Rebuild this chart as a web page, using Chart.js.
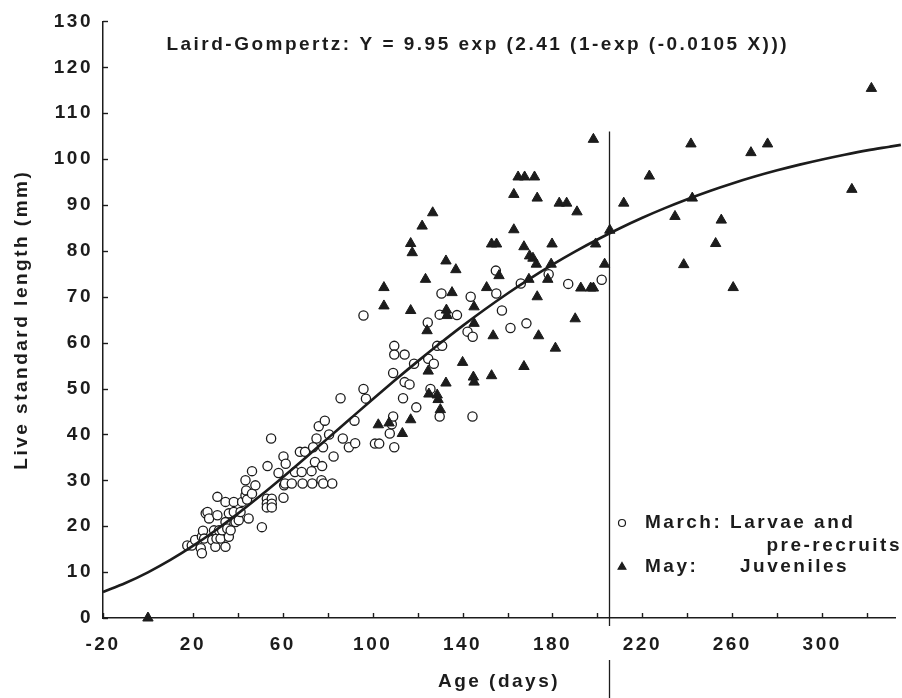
<!DOCTYPE html>
<html><head><meta charset="utf-8">
<script src="https://cdn.jsdelivr.net/npm/chart.js@4.4.1/dist/chart.umd.min.js"></script>
<style>html,body{margin:0;padding:0;background:#fff;}#wrap{width:902px;height:698px;}</style>
</head><body><div id="wrap"><canvas id="c" width="902" height="698"></canvas></div>
<script>
// ---- Data ----
const marchX = [17.5,19.5,21,23.5,24,24,24.5,25,25.7,26.5,27.2,28.6,29.4,30,30.5,30.9,30.9,31.6,32.3,33,34.5,34.5,34.5,35.3,36,36,36.8,38.2,38.2,39,40.4,41.2,41.9,43.4,43.4,43.7,44.1,44.8,46.3,46.3,47.8,50.7,52.9,52.9,52.9,53.2,54.8,55.1,55.1,55.1,58.1,60.3,60.3,60.6,61.3,61,64,65.4,67.6,68.4,68.8,69.9,72.8,73.1,74.3,75,73.5,77.9,76,78.7,77.5,77.2,78,80.6,82,82.6,85.7,86.7,89.4,92.2,91.9,95.9,95.9,97,101,102.9,107.6,108.5,109.1,109.6,109.1,109.6,109.6,114.2,114.2,116.4,113.5,118.4,119.4,124.7,127.2,124.5,125.7,128.7,130.9,129.8,129.8,130.6,137.5,142.2,144.5,143.6,144.4,155,154.8,157.5,161.3,165.9,168.4,178.3,187,201.9];
const marchY = [15.8,15.8,17,15.2,14.1,17.7,19,17.3,22.8,23.1,21.7,17,19.1,15.5,17.3,26.4,22.4,19.1,17.3,19.1,25.3,20.9,15.5,19.5,22.8,17.7,19.1,25.3,23.1,20.9,21.3,23.1,25.3,26.7,30,27.8,25.8,21.7,32,27.1,28.9,19.8,26,24.9,24.1,33.1,39.1,26,24.9,24.1,31.6,35.2,26.2,28.9,33.6,29.3,29.3,31.8,36.2,31.8,29.3,36.2,32,29.3,34,39.1,37.2,37.2,41.8,43,33.1,30,29.3,40,29.3,35.2,47.9,39.1,37.2,38.1,43,65.9,49.9,47.8,38,38,40.2,42.2,43.9,37.2,53.4,59.3,57.4,57.4,51.4,50.9,47.9,55.4,45.9,56.5,55.4,64.4,49.9,59.3,59.3,43.9,66.1,70.7,66,62.4,61.3,70,43.9,70.7,75.7,67,63.2,72.9,64.2,74.9,72.8,73.7];

const mayX = [0,102.5,107.3,113.2,116.9,105,105,116.9,116.9,117.6,122,126.7,123.5,124.2,124.7,125,128.7,129.1,130.1,132.6,132.6,132.8,133.1,135.3,137,140,144.8,145.1,145.1,145.1,150.7,152.9,152.9,155.1,153.6,156.2,162.8,162.8,164.7,167.6,172,167.3,167.3,169.5,169.8,171.3,172.8,173.2,173.2,173.8,177.9,179.4,179.8,181.3,183,186.3,190.1,190.9,192.6,197,198.2,198.2,199.2,203.2,205.5,211.7,223.1,234.5,238.4,241.6,242.2,252.6,255.1,260.4,268.3,275.7,313.2,321.9];
const mayY = [0,42.1,42.5,40.2,43.2,72,68,67,81.6,79.6,85.4,88.3,73.8,62.6,53.8,48.8,48.6,47.6,45.4,51.2,77.8,67.1,65.9,70.9,75.9,55.7,52.5,51.4,67.8,64.2,72,52.8,81.5,81.5,61.5,74.6,92.3,84.6,96.1,96.1,96.1,80.9,54.8,73.8,78.9,78.4,77.1,91.5,70,61.5,73.8,77.1,81.5,58.8,90.4,90.4,65.2,88.5,71.9,71.9,71.9,104.3,81.5,77.1,84.5,90.4,96.3,87.5,77,103.3,91.5,81.6,86.7,72,101.4,103.3,93.4,115.4];

// Fitted Laird-Gompertz curve
const curveX = [-20,-10,0,10,20,30,40,50,60,70,80,90,100,110,120,130,140,150,160,170,180,190,200,210,220,230,240,250,260,270,280,290,300,310,320,330,335];
const curveY = [5.67,7.62,9.95,12.65,15.71,19.08,22.74,26.63,30.69,34.88,39.14,43.42,47.67,51.85,55.92,59.86,63.66,67.27,70.70,73.94,76.98,79.82,82.47,84.93,87.21,89.31,91.25,93.05,94.68,96.18,97.54,98.79,99.92,100.95,101.9,102.7,103.1];

const titleText = 'Laird-Gompertz: Y = 9.95 exp (2.41 (1-exp (-0.0105 X)))';
const xTitle = 'Age (days)';
const yTitle = 'Live standard length (mm)';
const legendMarch = ['March: Larvae and', 'pre-recruits'];
const legendMay = ['May:', 'Juveniles'];
const vlineX = 205, vlineTop = 106;

// ---- Styling ----
const INK = '#1c1c1c';
const FAM = "'Liberation Sans', Arial, Helvetica, sans-serif";
const LS = '2.5px';
const fontSpec = {family: FAM, size: 19, weight: 'bold'};
const FONT = "bold 19px " + FAM;

const toPts = (xs, ys) => xs.map((v, i) => ({x: v, y: ys[i]}));

const annot = {
  id: 'annot',
  beforeDraw(chart) { chart.ctx.letterSpacing = LS; },
  afterDraw(chart) {
    const {ctx, chartArea} = chart;
    const x = chart.scales.x, y = chart.scales.y;
    ctx.save();
    ctx.letterSpacing = LS;
    ctx.strokeStyle = INK;
    ctx.lineWidth = 1.4;
    // inward tick marks
    x.ticks.forEach(t => {
      const px = Math.round(x.getPixelForValue(t.value)) + 0.5;
      ctx.beginPath(); ctx.moveTo(px, chartArea.bottom); ctx.lineTo(px, chartArea.bottom - 5); ctx.stroke();
    });
    y.ticks.forEach(t => {
      const py = Math.round(y.getPixelForValue(t.value)) + 0.5;
      ctx.beginPath(); ctx.moveTo(chartArea.left, py); ctx.lineTo(chartArea.left + 5, py); ctx.stroke();
    });
    // vertical reference line
    const vx = Math.round(x.getPixelForValue(vlineX)) + 0.5;
    ctx.lineWidth = 1.3;
    ctx.beginPath(); ctx.moveTo(vx, y.getPixelForValue(vlineTop)); ctx.lineTo(vx, chartArea.bottom + 8); ctx.stroke();
    ctx.beginPath(); ctx.moveTo(vx, chartArea.bottom + 42); ctx.lineTo(vx, chart.height); ctx.stroke();
    // equation
    ctx.fillStyle = INK;
    ctx.font = FONT;
    ctx.textBaseline = 'middle';
    ctx.textAlign = 'left';
    ctx.fillText(titleText, x.getPixelForValue(8.2), y.getPixelForValue(124.8));
    // legend
    const lx = 622, tx = 645, y1 = 523, y2 = 546, y3 = 567;
    ctx.fillStyle = '#fff'; ctx.strokeStyle = INK; ctx.lineWidth = 1.2;
    Chart.helpers.drawPoint(ctx, {pointStyle: 'circle', radius: 3.5, borderWidth: 1.2, rotation: 0}, lx, y1);
    ctx.fillStyle = INK;
    Chart.helpers.drawPoint(ctx, {pointStyle: 'triangle', radius: 4.5, borderWidth: 1, rotation: 0}, lx, y3);
    ctx.fillStyle = INK;
    ctx.fillText(legendMarch[0], tx, y1);
    ctx.textAlign = 'right';
    ctx.fillText(legendMarch[1], 902, y2);
    ctx.textAlign = 'left';
    ctx.fillText(legendMay[0], tx, y3);
    ctx.fillText(legendMay[1], 740, y3);
    ctx.restore();
  }
};

new Chart(document.getElementById('c'), {
  type: 'scatter',
  data: {
    datasets: [
      {
        type: 'line', label: 'fit', data: toPts(curveX, curveY), order: 0,
        borderColor: INK, borderWidth: 2.6, pointRadius: 0, fill: false,
        cubicInterpolationMode: 'monotone'
      },
      {
        label: 'March', data: toPts(marchX, marchY), order: 2,
        pointStyle: 'circle', pointRadius: 4.6, backgroundColor: '#fff',
        borderColor: INK, borderWidth: 1.3
      },
      {
        label: 'May', data: toPts(mayX, mayY), order: 1,
        pointStyle: 'triangle', pointRadius: 6, backgroundColor: INK,
        borderColor: INK, borderWidth: 1
      }
    ]
  },
  options: {
    responsive: false, animation: false, clip: false,
    layout: {padding: {top: 20, right: 0, left: 0, bottom: 0}},
    plugins: {legend: {display: false}, tooltip: {enabled: false}, title: {display: false}},
    scales: {
      x: {
        type: 'linear', min: -20, max: 332.4,
        afterFit: s => { s.height = 80; },
        border: {display: true, color: INK, width: 1.5},
        grid: {display: true, drawOnChartArea: false, drawTicks: false},
        ticks: {
          stepSize: 20, includeBounds: false, autoSkip: false, maxRotation: 0,
          padding: 15, color: INK, font: fontSpec,
          callback: v => ((v + 20) % 40 === 0 ? String(v) : '')
        },
        title: {display: true, text: xTitle, color: INK, font: fontSpec, padding: {top: 0, bottom: 5}}
      },
      y: {
        type: 'linear', min: 0, max: 130,
        afterFit: s => { s.width = 103; },
        border: {display: true, color: INK, width: 1.5},
        grid: {display: true, drawOnChartArea: false, drawTicks: false},
        ticks: {stepSize: 10, padding: 10, color: INK, font: fontSpec},
        title: {display: true, text: yTitle, color: INK, font: fontSpec, padding: {top: 10, bottom: 0}}
      }
    }
  },
  plugins: [annot]
});
</script>
</body></html>
